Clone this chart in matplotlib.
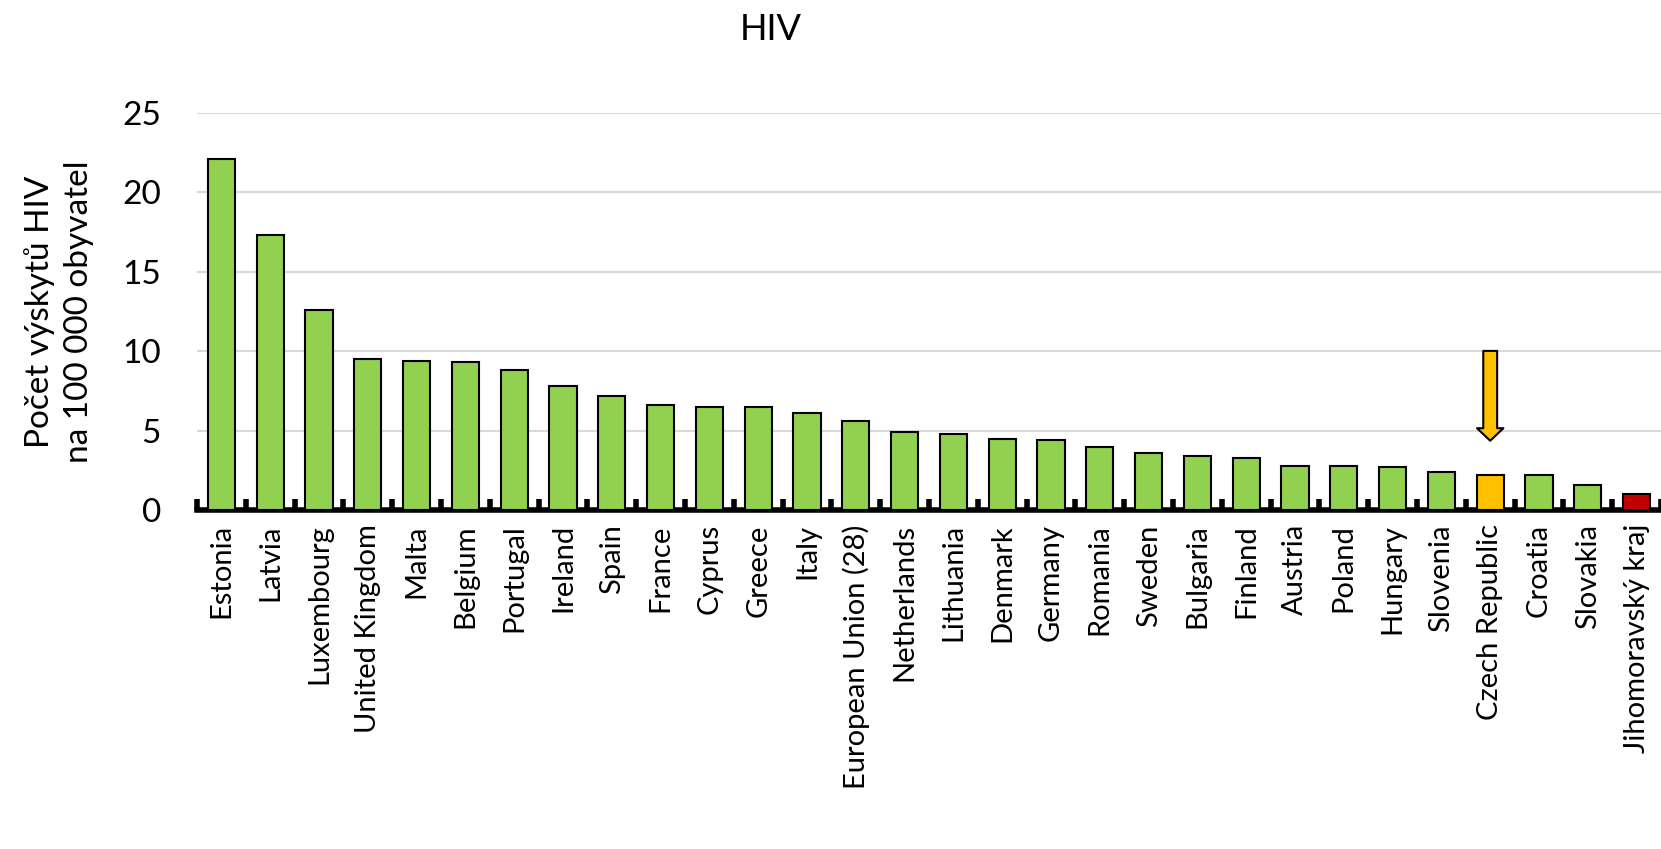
import numpy as np
import matplotlib.pyplot as plt
from matplotlib.patches import FancyArrowPatch

countries = ['Estonia', 'Latvia', 'Luxembourg', 'United Kingdom', 'Malta', 'Belgium',
             'Portugal', 'Ireland', 'Spain', 'France', 'Cyprus', 'Greece', 'Italy',
             'European Union (28)', 'Netherlands', 'Lithuania', 'Denmark', 'Germany',
             'Romania', 'Sweden', 'Bulgaria', 'Finland', 'Austria', 'Poland', 'Hungary',
             'Slovenia', 'Czech Republic', 'Croatia', 'Slovakia', 'Jihomoravský kraj']
values = [22.1, 17.3, 12.6, 9.5, 9.4, 9.3, 8.8, 7.8, 7.2, 6.6, 6.5, 6.5, 6.1,
          5.6, 4.9, 4.8, 4.5, 4.4, 4.0, 3.6, 3.4, 3.3, 2.8, 2.8, 2.7, 2.4, 2.2,
          2.2, 1.6, 1.0]
yticks = [0, 5, 10, 15, 20, 25]
highlight = 'Czech Republic'
region = 'Jihomoravský kraj'
arrow_top = 10.2
arrow_tip = 4.2

plt.rcParams['font.family'] = ['Lato', 'DejaVu Sans']

colors = []
for c in countries:
    if c == highlight:
        colors.append('#FFC000')
    elif c == region:
        colors.append('#C00000')
    else:
        colors.append('#92D050')

fig = plt.figure(figsize=(16.61, 8.49), dpi=100)
ax = fig.add_axes([0.1186, 0.399, 0.8814, 0.468])

x = np.arange(len(countries))
ax.bar(x, values, width=0.56, color=colors, edgecolor='black', linewidth=1.5, zorder=3)

ax.set_xlim(-0.5, len(countries) - 0.5)
ax.set_ylim(0, 25)
ax.set_yticks(yticks)
ax.yaxis.grid(True, color='#d9d9d9', linewidth=1.5, zorder=0)
ax.tick_params(axis='y', length=0, pad=26, labelsize=24)

ax.set_xticks(x)
ax.set_xticklabels(countries, rotation=90, fontsize=21)
ax.tick_params(axis='x', which='major', length=0, pad=10)
ax.set_xticks(np.arange(len(countries) + 1) - 0.5, minor=True)
ax.tick_params(axis='x', which='minor', direction='in', length=8, width=4, color='black')

for s in ['top', 'right', 'left']:
    ax.spines[s].set_visible(False)
ax.spines['bottom'].set_linewidth(4)

i = countries.index(highlight)
arr = FancyArrowPatch((i, arrow_top), (i, arrow_tip),
                      arrowstyle='simple,head_length=0.9,head_width=1.9,tail_width=1.0',
                      mutation_scale=10, facecolor='#FFC000', edgecolor='black',
                      linewidth=1.5, zorder=4)
ax.add_patch(arr)

ax.set_ylabel('Počet výskytů HIV\nna 100 000 obyvatel', fontsize=24, labelpad=20,
              linespacing=1.4)
fig.text(0.464, 0.965, 'HIV', fontsize=26, ha='center', va='center')

fig.savefig('out.png', dpi=100)
